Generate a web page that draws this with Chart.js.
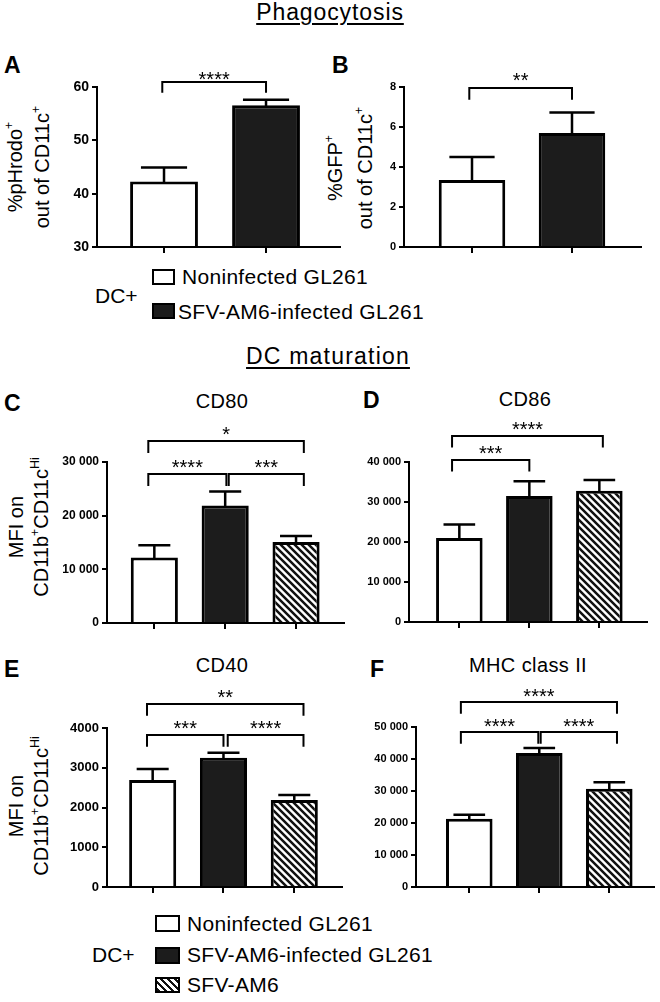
<!DOCTYPE html>
<html><head><meta charset="utf-8">
<script src="https://cdn.jsdelivr.net/npm/chart.js@4"></script>
<style>
html,body{margin:0;padding:0;background:#fff}
body{width:660px;height:1002px;position:relative;overflow:hidden;font-family:'Liberation Sans',Arial,Helvetica,sans-serif;color:#000}
.t{position:absolute;white-space:nowrap}
canvas{position:absolute}
sup{font-size:62%;vertical-align:0;position:relative;top:-0.75em}
.yl{position:absolute;text-align:center;white-space:nowrap;transform:translate(-50%,-50%) rotate(-90deg)}
.box{position:absolute;box-sizing:border-box;border:2.5px solid #000;background:#fff}
</style></head><body>
<script>
// ---------- data ----------
const groups2 = ['Noninfected GL261', 'SFV-AM6-infected GL261'];
const groups3 = ['Noninfected GL261', 'SFV-AM6-infected GL261', 'SFV-AM6'];

const pHrodoMean = [42.3, 56.6];
const pHrodoSem  = [2.6, 1.0];
const gfpMean    = [3.35, 5.7];
const gfpSem     = [1.15, 1.03];
const cd80Mean   = [12200, 21900, 15100];
const cd80Sem    = [2300, 2600, 1100];
const cd86Mean   = [21000, 31500, 32800];
const cd86Sem    = [3400, 3700, 2700];
const cd40Mean   = [2690, 3250, 2190];
const cd40Sem    = [280, 125, 125];
const mhcMean    = [21300, 41900, 30700];
const mhcSem     = [1300, 1500, 2000];

const pHrodoTicks = [30, 40, 50, 60];
const gfpTicks    = [0, 2, 4, 6, 8];
const cd80Ticks   = [0, 10000, 20000, 30000];
const cd86Ticks   = [0, 10000, 20000, 30000, 40000];
const cd40Ticks   = [0, 1000, 2000, 3000, 4000];
const mhcTicks    = [0, 10000, 20000, 30000, 40000, 50000];

// significance brackets: [from group pos, to group pos, bracket height (data units), label]
const pHrodoSig = [[0.983, 2.0, 60.94, '****']];
const gfpSig    = [[0.973, 2.0, 7.95, '**']];
const cd80Sig   = [[0.915, 2.017, 27830, '****'], [2.05, 3.11, 27830, '***'], [0.915, 3.11, 33880, '*']];
const cd86Sig   = [[0.896, 2.0, 40425, '***'], [0.896, 3.05, 46500, '****']];
const cd40Sig   = [[0.92, 2.0, 3817, '***'], [2.06, 3.13, 3817, '****'], [0.92, 3.13, 4612, '**']];
const mhcSig    = [[0.88, 1.986, 48440, '****'], [2.02, 3.11, 48440, '****'], [0.88, 3.11, 57810, '****']];

// ---------- helpers ----------
Chart.defaults.font.family = "'Liberation Sans', Arial, Helvetica, sans-serif";
Chart.defaults.color = '#000';

function txt(html, x, base, size, o) {
  o = o || {};
  const d = document.createElement('div');
  d.className = 't';
  d.innerHTML = html;
  d.style.fontSize = size + 'px';
  d.style.lineHeight = size + 'px';
  d.style.top = (base - 0.8465 * size) + 'px';
  d.style.left = x + 'px';
  if (o.bold) d.style.fontWeight = 'bold';
  if (o.ls) d.style.letterSpacing = o.ls + 'px';
  if (o.center) d.style.transform = 'translateX(-50%)';
  if (o.underline) { d.style.textDecoration = 'underline'; d.style.textDecorationThickness = '1.5px'; d.style.textUnderlineOffset = '3px'; }
  document.body.appendChild(d);
}
function ylab(lines, cx, cy, size, lh) {
  const d = document.createElement('div');
  d.className = 'yl';
  d.style.left = cx + 'px'; d.style.top = cy + 'px';
  d.style.fontSize = size + 'px'; d.style.lineHeight = lh + 'px';
  d.innerHTML = lines.map(l => '<div>' + l + '</div>').join('');
  document.body.appendChild(d);
}
function box(x, y, w, h, kind) {
  const d = document.createElement('div');
  d.className = 'box';
  d.style.left = x + 'px'; d.style.top = y + 'px';
  d.style.width = w + 'px'; d.style.height = h + 'px';
  if (kind === 1) d.style.background = '#1c1c1c';
  if (kind === 2) d.style.background = 'repeating-linear-gradient(45deg,#111 0 2.2px,#fff 2.2px 5px)';
  document.body.appendChild(d);
}
const spaced = v => String(v).replace(/\B(?=(\d{3})+(?!\d))/g, ' ');
const plain = v => String(v);

const tile = document.createElement('canvas');
tile.width = tile.height = 7;
(function () {
  const g = tile.getContext('2d');
  g.fillStyle = '#fff'; g.fillRect(0, 0, 7, 7);
  g.strokeStyle = '#111'; g.lineWidth = 2.5;
  g.beginPath();
  g.moveTo(-1, -1); g.lineTo(8, 8);
  g.moveTo(-1, 6); g.lineTo(1, 8);
  g.moveTo(6, -1); g.lineTo(8, 1);
  g.stroke();
})();

function panel(p) {
  const cx = p.axisX - 70, cy = p.yTop - 70;
  const cw = p.axisEnd - cx, ch = p.yBot + 12 - cy;
  const cv = document.createElement('canvas');
  cv.width = cw; cv.height = ch;
  cv.style.left = cx + 'px'; cv.style.top = cy + 'px';
  cv.style.width = cw + 'px'; cv.style.height = ch + 'px';
  document.body.appendChild(cv);
  const pat = cv.getContext('2d').createPattern(tile, 'repeat');
  const fills = ['#ffffff', '#1c1c1c', pat].slice(0, p.means.length);
  const ann = {
    id: 'ann',
    afterDatasetsDraw(chart) {
      const ctx = chart.ctx, xs = chart.scales.x, ys = chart.scales.y;
      const meta = chart.getDatasetMeta(0);
      ctx.save();
      ctx.strokeStyle = '#000'; ctx.fillStyle = '#000';
      ctx.lineWidth = 2.5; ctx.lineCap = 'butt'; ctx.lineJoin = 'miter';
      p.sems.forEach((s, i) => {
        const el = meta.data[i].getProps(['x', 'y', 'width'], true);
        const ye = ys.getPixelForValue(p.means[i] + s);
        const hw = el.width * 0.34;
        ctx.beginPath();
        ctx.moveTo(el.x, el.y + 1); ctx.lineTo(el.x, ye);
        ctx.moveTo(el.x - hw, ye); ctx.lineTo(el.x + hw, ye);
        ctx.stroke();
      });
      ctx.lineWidth = 2;
      ctx.font = '20px ' + Chart.defaults.font.family;
      ctx.textAlign = 'center'; ctx.textBaseline = 'alphabetic';
      p.sig.forEach(b => {
        const x1 = xs.getPixelForValue(b[0]), x2 = xs.getPixelForValue(b[1]);
        const y = Math.round(ys.getPixelForValue(b[2]));
        ctx.beginPath();
        ctx.moveTo(x1, y + p.drop); ctx.lineTo(x1, y); ctx.lineTo(x2, y); ctx.lineTo(x2, y + p.drop);
        ctx.stroke();
        ctx.fillText(b[3], (x1 + x2) / 2, y - p.gap + 11.6);
      });
      ctx.restore();
    }
  };
  new Chart(cv, {
    type: 'bar',
    data: {
      datasets: [{
        data: p.means.map((m, i) => ({ x: i + 1, y: m })),
        backgroundColor: fills,
        borderColor: '#000',
        borderWidth: 3,
        barPercentage: 0.665,
        categoryPercentage: 1
      }]
    },
    options: {
      responsive: false,
      animation: false,
      layout: { padding: { top: 70, left: 0, right: 0, bottom: 0 } },
      plugins: { legend: { display: false }, tooltip: { enabled: false } },
      scales: {
        x: {
          type: 'linear', min: p.xMin, max: p.xMax, offset: false,
          afterBuildTicks: s => { s.ticks = p.means.map((m, i) => ({ value: i + 1 })); },
          afterFit: s => { s.height = 12; },
          ticks: { display: false },
          grid: { offset: false, drawOnChartArea: false, drawTicks: true, tickLength: 6, color: '#000', lineWidth: 2 },
          border: { color: '#000', width: 2, z: 1 }
        },
        y: {
          min: p.ticks[0], max: p.ticks[p.ticks.length - 1],
          afterBuildTicks: s => { s.ticks = p.ticks.map(v => ({ value: v })); },
          afterFit: s => { s.width = 70; },
          ticks: { color: '#000', font: { size: p.tickSize, weight: 'bold' }, padding: 3, callback: p.fmt },
          grid: { drawOnChartArea: false, drawTicks: true, tickLength: 5, color: '#000', lineWidth: 2 },
          border: { color: '#000', width: 2 }
        }
      }
    },
    plugins: [ann]
  });
}

// ---------- headers & letters ----------
txt('Phagocytosis', 330, 20, 23, { center: true, underline: true, ls: 0.9 });
txt('DC maturation', 328, 364, 23, { center: true, underline: true, ls: 1.2 });
txt('A', 4, 73, 23, { bold: true });
txt('B', 332, 73, 23, { bold: true });
txt('C', 4, 411, 23, { bold: true });
txt('D', 363, 408, 23, { bold: true });
txt('E', 4, 677, 23, { bold: true });
txt('F', 370, 677, 23, { bold: true });
txt('CD80', 222, 408, 20, { center: true, ls: 0.4 });
txt('CD86', 525, 406, 20, { center: true, ls: 0.4 });
txt('CD40', 222, 672, 20, { center: true, ls: 0.4 });
txt('MHC class II', 528, 672, 20, { center: true, ls: 0.4 });

// ---------- axis titles ----------
ylab(['%pHrodo<sup>+</sup>', 'out of CD11c<sup>+</sup>'], 30, 167, 20, 24);
ylab(['%GFP<sup>+</sup>', 'out of CD11c<sup>+</sup>'], 352, 168, 20, 27);
ylab(['MFI on', 'CD11b<sup>+</sup>CD11c<sup>Hi</sup>'], 30, 527, 20, 25);
ylab(['MFI on', 'CD11b<sup>+</sup>CD11c<sup>Hi</sup>'], 30, 806, 20, 25);

// ---------- panels ----------
panel({ means: pHrodoMean, sems: pHrodoSem, ticks: pHrodoTicks, sig: pHrodoSig, fmt: plain, tickSize: 14,
  axisX: 97, axisEnd: 341, yTop: 87, yBot: 247, xMin: 0.343, xMax: 2.735, drop: 10.7, gap: 7.5 });
panel({ means: gfpMean, sems: gfpSem, ticks: gfpTicks, sig: gfpSig, fmt: plain, tickSize: 11,
  axisX: 404, axisEnd: 642, yTop: 87, yBot: 247, xMin: 0.32, xMax: 2.70, drop: 11.7, gap: 13 });
panel({ means: cd80Mean, sems: cd80Sem, ticks: cd80Ticks, sig: cd80Sig, fmt: spaced, tickSize: 12,
  axisX: 107, axisEnd: 345, yTop: 462, yBot: 623, xMin: 0.332, xMax: 3.691, drop: 12, gap: 11.5 });
panel({ means: cd86Mean, sems: cd86Sem, ticks: cd86Ticks, sig: cd86Sig, fmt: spaced, tickSize: 11,
  axisX: 409, axisEnd: 648, yTop: 462, yBot: 622, xMin: 0.281, xMax: 3.695, drop: 11.5, gap: 11.5 });
panel({ means: cd40Mean, sems: cd40Sem, ticks: cd40Ticks, sig: cd40Sig, fmt: plain, tickSize: 13,
  axisX: 107, axisEnd: 343, yTop: 728, yBot: 887, xMin: 0.355, xMax: 3.688, drop: 11.7, gap: 12 });
panel({ means: mhcMean, sems: mhcSem, ticks: mhcTicks, sig: mhcSig, fmt: spaced, tickSize: 11,
  axisX: 416, axisEnd: 655, yTop: 727, yBot: 887, xMin: 0.239, xMax: 3.653, drop: 11.7, gap: 11 });

// ---------- legends ----------
txt('DC+', 95, 303, 21);
box(152, 269, 23, 16, 0); txt(groups2[0], 182, 284, 21, { ls: 0.3 });
box(152, 303, 23, 16, 1); txt(groups2[1], 178, 319, 21, { ls: 0.3 });

txt('DC+', 92, 962, 21);
box(155, 915, 25, 17, 0); txt(groups3[0], 187, 931, 21, { ls: 0.3 });
box(155, 947, 25, 17, 1); txt(groups3[1], 187, 962, 21, { ls: 0.3 });
box(155, 977, 25, 16, 2); txt(groups3[2], 187, 992, 21, { ls: 0.3 });
</script>
</body></html>
